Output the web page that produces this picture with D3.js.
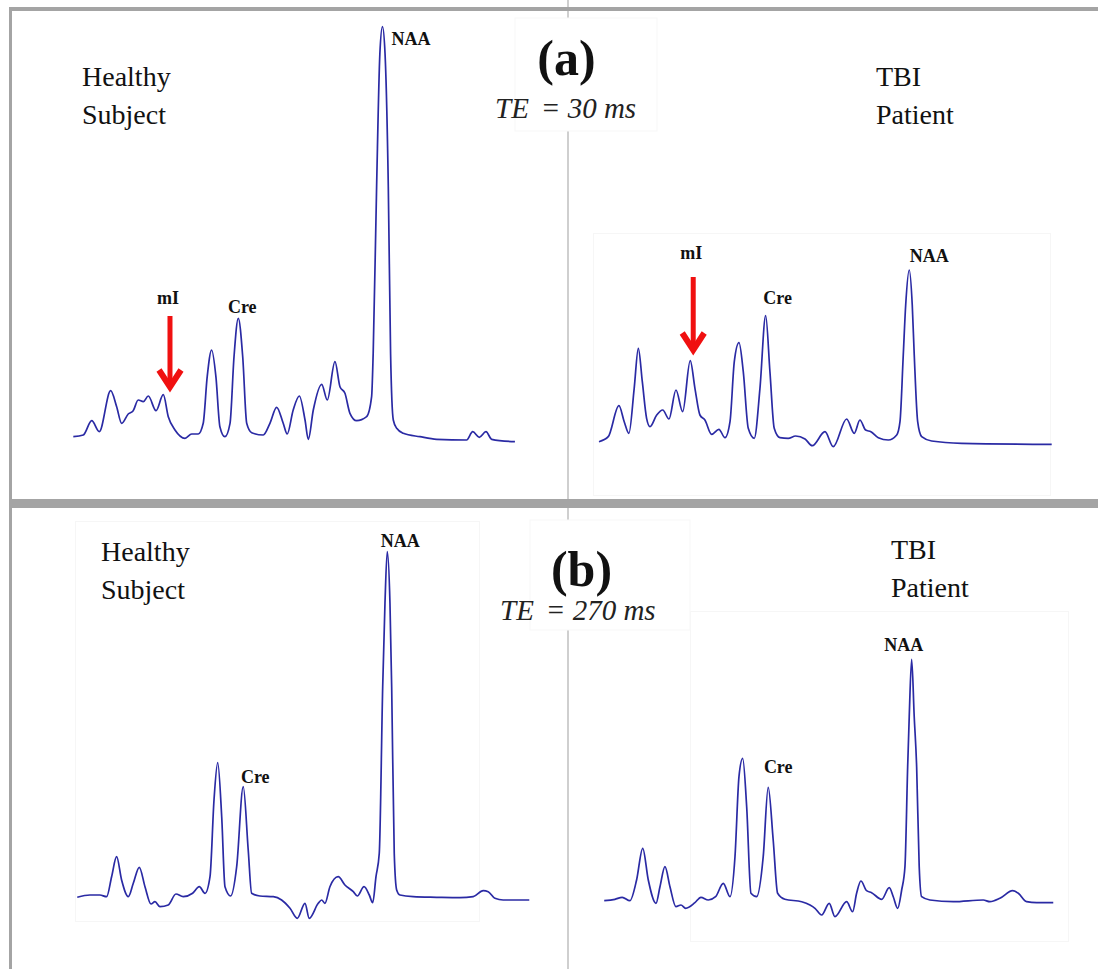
<!DOCTYPE html>
<html>
<head>
<meta charset="utf-8">
<script src="https://cdn.jsdelivr.net/npm/d3@7"></script>
<style>
  html, body { margin: 0; padding: 0; background: #ffffff; }
  svg { display: block; }
</style>
</head>
<body>
<svg id="fig" width="1098" height="969"></svg>
<script>
// ---- 1H MR spectra: chemical shift (ppm) and signal intensity (a.u.) ----

// (a) TE = 30 ms, healthy subject
const shiftA30Healthy = [4.188,4.118,4.059,4.006,3.926,3.884,3.849,3.803,3.768,3.733,3.697,3.662,3.608,3.557,3.522,3.475,3.405,3.358,3.312,3.277,3.249,3.218,3.188,3.160,3.125,3.089,3.061,3.031,3.000,2.972,2.937,2.856,2.809,2.762,2.716,2.688,2.646,2.603,2.563,2.540,2.505,2.446,2.407,2.353,2.318,2.283,2.248,2.201,2.131,2.096,2.085,2.061,2.038,2.020,2.002,1.979,1.963,1.944,1.920,1.874,1.757,1.640,1.430,1.387,1.341,1.294,1.254,1.091];
const ampA30Healthy   = [3.3,5,19.3,8.3,49.3,33.3,16.7,26,29.3,40,38.3,44,29.3,45.3,23.3,10,1.7,6,6,16.7,63.3,90,63.3,13.3,3.3,16.7,83.3,121.7,83.3,16.7,7.3,5,16.7,32.7,16.7,6,30,44,20,0.7,30,55.7,40,78.3,53.3,46.7,26.7,19.3,23.3,43.3,86.7,253.3,386.7,413.3,386.7,253.3,86.7,20,11.7,6.7,3.3,0.7,0,8.3,2.7,8.3,0.7,-1.7];

// (a) TE = 30 ms, TBI patient
const shiftA30TBI = [4.196,4.131,4.056,4.019,3.986,3.949,3.920,3.892,3.862,3.838,3.791,3.749,3.705,3.656,3.609,3.556,3.523,3.488,3.453,3.406,3.355,3.312,3.277,3.247,3.214,3.184,3.149,3.107,3.067,3.027,2.997,2.967,2.927,2.869,2.817,2.751,2.700,2.611,2.553,2.459,2.406,2.366,2.326,2.289,2.237,2.167,2.108,2.085,2.062,2.045,2.020,1.999,1.985,1.961,1.933,1.863,1.653,1.021];
const ampA30TBI   = [1.3,6.3,37.3,21.3,9.7,54.7,94.7,61.3,24.7,16.3,28,33,24,53,31.3,82.3,54.7,28,23,8.7,13.7,5.3,21.3,81.3,100.3,71.3,14.7,4.7,54.7,127.3,71.3,14.7,5.3,4.7,7,4,-2.7,11.3,-3.7,24,9.7,23,13,11.3,5.3,3,8,21.3,88,138,173,138,88,21.3,6.3,2,-0.3,-1.3];

// (b) TE = 270 ms, healthy subject
const shiftB270Healthy = [4.194,4.105,4.035,3.988,3.953,3.918,3.883,3.836,3.801,3.759,3.719,3.677,3.649,3.614,3.556,3.502,3.451,3.385,3.338,3.298,3.263,3.235,3.209,3.181,3.158,3.118,3.076,3.030,2.995,2.971,2.913,2.819,2.761,2.702,2.651,2.597,2.567,2.504,2.480,2.457,2.422,2.364,2.317,2.258,2.230,2.183,2.146,2.122,2.099,2.076,2.052,2.036,2.020,2.001,1.989,1.971,1.954,1.931,1.838,1.674,1.510,1.417,1.347,1.312,1.265,1.207,1.024];
const ampB270Healthy   = [-0.3,2,2,0.3,20.3,40.3,17,0.3,13.7,29.7,10.3,-7,-4.7,-9.7,-8,3,0.3,3.7,10.3,3.7,20.3,97,134.3,80.3,10.3,1,30.3,110.3,47,3.7,1,0.3,-3,-11.3,-21.3,-6.3,-21.3,-6.3,-3,-6.3,10.3,20.3,12,5.3,1,10.3,2,-5.7,20.3,43.7,210.3,293.7,345.3,293.7,210.3,43.7,7,2,0.3,-0.3,-0.7,0.3,6.3,5.3,-1.3,-3,-3];

// (b) TE = 270 ms, TBI patient
const shiftB270TBI = [4.176,4.101,4.050,3.996,3.949,3.906,3.867,3.813,3.785,3.750,3.715,3.673,3.638,3.605,3.540,3.498,3.446,3.395,3.341,3.294,3.259,3.231,3.205,3.177,3.147,3.107,3.061,3.026,2.991,2.960,2.909,2.791,2.733,2.698,2.651,2.598,2.558,2.476,2.434,2.406,2.376,2.336,2.301,2.230,2.177,2.149,2.118,2.090,2.067,2.048,2.037,2.020,2.002,1.985,1.967,1.950,1.892,1.728,1.518,1.471,1.401,1.312,1.272,1.214,1.143,1.027];
const ampB270TBI   = [0.3,1.7,3.7,0.3,21,52.7,21,-2.3,14.3,34.3,14.3,-5.7,-4,-7.3,-1.7,3.7,1,4.3,17.7,4.3,44.3,124.3,142.7,94.3,7.7,4.3,44.3,113.7,61,7.7,1.7,-0.7,-4,-7.3,-14,-2.3,-15.7,-0.7,-10.7,7.7,20,10.3,8.3,1.7,13.3,4.3,-7.3,11,34.3,134.3,184.3,241.7,184.3,134.3,34.3,4.3,1,-0.7,1,-0.7,2.7,10.3,7.7,-0.7,-1.7,-1.7];

// Metabolite chemical shifts used for the peak labels
const metaboliteNames = ["NAA", "Cre", "mI"];
const metaboliteShifts = [2.02, 3.03, 3.56];

// Panel titles
const groupLabels = [["Healthy", "Subject"], ["TBI", "Patient"]];
const sequenceLabels = ["(a)", "(b)"];
const echoTimes = ["30 ms", "270 ms"];

// ---- layout ----
const svg = d3.select("#fig");
const W = 1098, H = 969;
const shiftDomain = [4.2, 1.0];
const spanPx = 456.3;

const panels = [
  { shift: shiftA30Healthy,  amp: ampA30Healthy,  left: 71.6,  base: 440,
    labels: [{m:"NAA", dx: 9, dy: 18, anchor:"start"}, {m:"Cre", dx: 4, dy: -5}],
    arrow: { at: 3.51, top: 124, tip: 50, labelDy: 12 } },
  { shift: shiftA30TBI,      amp: ampA30TBI,      left: 598.4, base: 443,
    labels: [{m:"NAA", dx: 20, dy: -8}, {m:"Cre", dx: 12, dy: -12}],
    arrow: { at: 3.535, top: 166, tip: 90, labelDy: 18 } },
  { shift: shiftB270Healthy, amp: ampB270Healthy, left: 76.4,  base: 897,
    labels: [{m:"NAA", dx: 13, dy: -5}, {m:"Cre", dx: 12, dy: -4}] },
  { shift: shiftB270TBI,     amp: ampB270TBI,     left: 600.8, base: 901,
    labels: [{m:"NAA", dx: -8, dy: -8}, {m:"Cre", dx: 10, dy: -14}] }
];

const serif = "'Liberation Serif', 'Times New Roman', serif";
const lineColor = "#2a2aa4";
const frameGray = "#a4a4a4";

// very faint outlines of the inset boxes
const faint = svg.append("g").attr("fill", "none").attr("stroke", "#f6f6f6").attr("stroke-width", 1);
faint.append("rect").attr("x", 593.5).attr("y", 233.5).attr("width", 457).attr("height", 262);
faint.append("rect").attr("x", 75.5).attr("y", 521.5).attr("width", 404).attr("height", 400);
faint.append("rect").attr("x", 690.5).attr("y", 611.5).attr("width", 378).attr("height", 330);

// centre divider
svg.append("rect").attr("x", 567).attr("y", 0).attr("width", 2).attr("height", H).attr("fill", "#cfcfcf");

// outer frame and separator band
svg.append("rect").attr("x", 9).attr("y", 7).attr("width", W - 9).attr("height", 4).attr("fill", frameGray);
svg.append("rect").attr("x", 9).attr("y", 7).attr("width", 3).attr("height", H - 7).attr("fill", frameGray);
svg.append("rect").attr("x", 9).attr("y", 499).attr("width", W - 9).attr("height", 9).attr("fill", frameGray);

// spectra
panels.forEach(p => {
  const x = d3.scaleLinear().domain(shiftDomain).range([p.left, p.left + spanPx]);
  const y = d3.scaleLinear().domain([0, 100]).range([p.base, p.base - 100]);
  const pts = p.shift.map((s, i) => [s, p.amp[i]]);

  svg.append("path")
    .datum(pts)
    .attr("fill", "none")
    .attr("stroke", lineColor)
    .attr("stroke-width", 1.7)
    .attr("stroke-linejoin", "round")
    .attr("d", d3.line().x(d => x(d[0])).y(d => y(d[1])).curve(d3.curveMonotoneX));

  // peak labels anchored to the local maximum near each metabolite shift
  p.labels.forEach(l => {
    const s0 = metaboliteShifts[metaboliteNames.indexOf(l.m)];
    const near = pts.filter(d => Math.abs(d[0] - s0) < 0.04);
    const peak = d3.greatest(near, d => d[1]);
    svg.append("text")
      .attr("x", x(peak[0]) + l.dx)
      .attr("y", y(peak[1]) + l.dy)
      .attr("text-anchor", l.anchor || "middle")
      .attr("font-family", serif)
      .attr("font-weight", "bold")
      .attr("font-size", 18)
      .attr("fill", "#111")
      .text(l.m);
  });

  // red arrow marking myo-inositol
  if (p.arrow) {
    const ax = x(p.arrow.at), yTop = y(p.arrow.top), yTip = y(p.arrow.tip);
    const g = svg.append("g").attr("stroke", "#f01010").attr("fill", "none");
    g.append("line").attr("x1", ax).attr("x2", ax).attr("y1", yTop).attr("y2", yTip - 4)
      .attr("stroke-width", 5);
    g.append("polyline")
      .attr("points", [[ax - 11, yTip - 20], [ax, yTip - 3], [ax + 11, yTip - 20]].map(d => d.join(",")).join(" "))
      .attr("stroke-width", 6).attr("stroke-linejoin", "miter").attr("stroke-linecap", "butt");
    svg.append("text")
      .attr("x", ax - 2)
      .attr("y", yTop - p.arrow.labelDy)
      .attr("text-anchor", "middle")
      .attr("font-family", serif)
      .attr("font-weight", "bold")
      .attr("font-size", 18)
      .attr("fill", "#111")
      .text("mI");
  }
});

// group labels
const groupPos = [
  [82, 86], [876, 86],
  [101, 561], [891, 559]
];
groupPos.forEach((pos, i) => {
  const lines = groupLabels[i % 2];
  const t = svg.append("text")
    .attr("font-family", serif)
    .attr("font-size", 28)
    .attr("fill", "#111");
  lines.forEach((s, j) => {
    t.append("tspan").attr("x", pos[0]).attr("y", pos[1] + j * 37.5).text(s);
  });
});

// sequence titles with echo time
const titlePos = [
  { box: [515, 18, 142, 113], cx: 566.5, yLetter: 75, teX: 495, teY: 118 },
  { box: [530, 520, 160, 110], cx: 581.5, yLetter: 586, teX: 500, teY: 620 }
];
titlePos.forEach((tp, i) => {
  svg.append("rect").attr("x", tp.box[0]).attr("y", tp.box[1])
    .attr("width", tp.box[2]).attr("height", tp.box[3])
    .attr("fill", "#ffffff").attr("stroke", "#f7f7f7");
  svg.append("text")
    .attr("x", tp.cx).attr("y", tp.yLetter)
    .attr("text-anchor", "middle")
    .attr("font-family", serif).attr("font-weight", "bold").attr("font-size", 50)
    .attr("fill", "#111")
    .text(sequenceLabels[i]);
  const te = svg.append("text")
    .attr("x", tp.teX).attr("y", tp.teY)
    .attr("font-family", serif).attr("font-style", "italic").attr("font-size", 29)
    .attr("fill", "#222");
  te.append("tspan").text("TE");
  te.append("tspan").attr("dx", 12).text("= " + echoTimes[i]);
});
</script>
</body>
</html>
